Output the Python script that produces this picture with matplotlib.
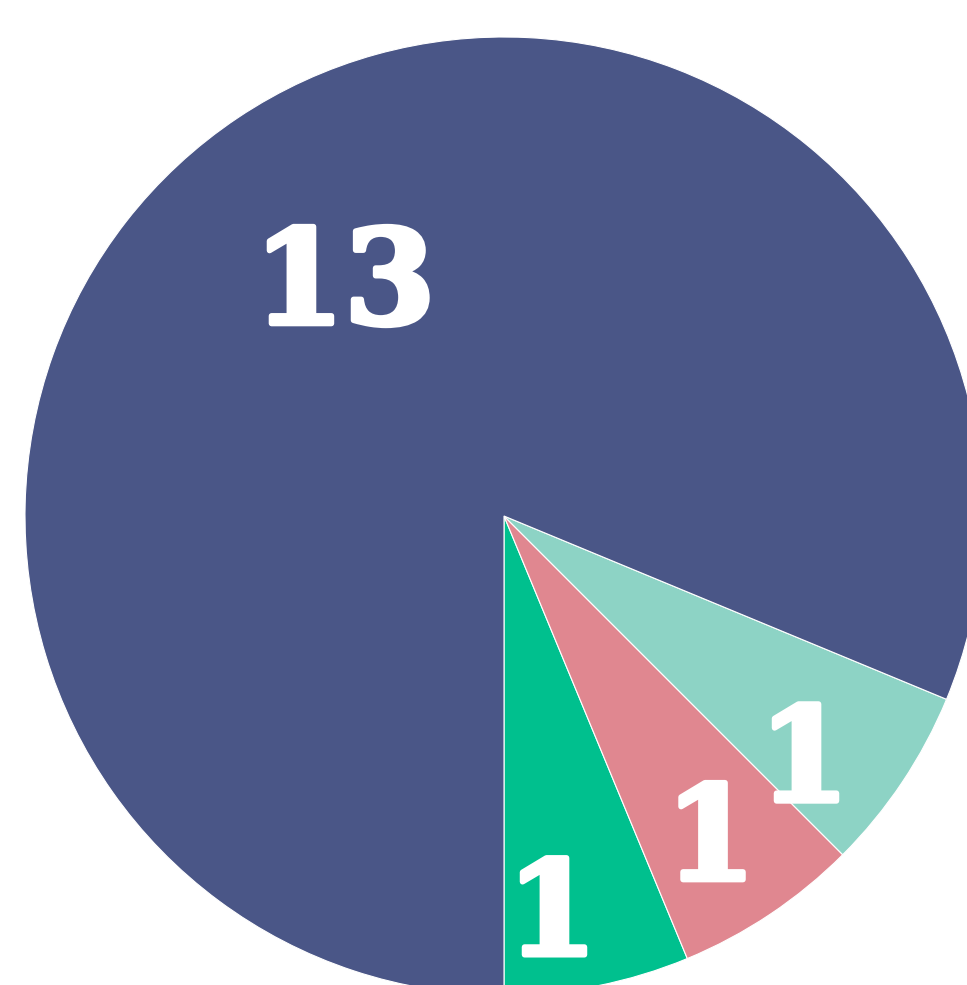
import numpy as np
import matplotlib
matplotlib.use("Agg")
import matplotlib.pyplot as plt
import matplotlib.patheffects as pe
from matplotlib.transforms import offset_copy

# Data
labels = ["A", "B", "C", "D"]
values = [1, 1, 1, 13]
colors = ["#00C08E", "#E08790", "#8DD3C5", "#4A5687"]

# label placement inside each wedge (fraction of wedge span, radius)
label_frac = [0.31, 0.47, 0.29, 0.50]
label_rad = [0.825, 0.79, 0.80, 0.60]

W, H = 967, 985
cx, cy, R = 504, 516, 479  # pixel centre and radius of pie

fig = plt.figure(figsize=(W / 100, H / 100), dpi=100)
ax = fig.add_axes([0, 0, 1, 1])

wedges, _ = ax.pie(
    values,
    colors=colors,
    startangle=-90,
    counterclock=True,
    wedgeprops=dict(edgecolor="white", linewidth=0.8),
)

# text ink sits a little above the anchor, push it down a bit
txt_trans = offset_copy(ax.transData, fig=fig, x=0, y=-10, units="dots")

for w, v, f, r in zip(wedges, values, label_frac, label_rad):
    ang = np.deg2rad(w.theta1 + f * (w.theta2 - w.theta1))
    ax.text(r * np.cos(ang), r * np.sin(ang), str(v),
            ha="center", va="center", color="white", transform=txt_trans,
            fontsize=94, fontweight="bold", family="DejaVu Serif",
            path_effects=[pe.withStroke(linewidth=4, foreground="white")])

ax.set_xlim(-cx / R, (W - cx) / R)
ax.set_ylim(-(H - cy) / R, cy / R)
ax.set_aspect("equal")
ax.axis("off")

fig.savefig("out.png", dpi=100)
